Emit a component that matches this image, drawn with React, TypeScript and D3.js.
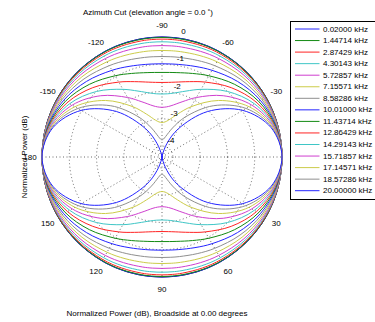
import React from "react";
import * as d3 from "d3";

// frequencies shown in the legend
const freqLabels = [
  "0.02000", "1.44714", "2.87429", "4.30143", "5.72857",
  "7.15571", "8.58286", "10.01000", "11.43714", "12.86429",
  "14.29143", "15.71857", "17.14571", "18.57286", "20.00000",
];

const lineColors = [
  "#2424ff", "#138a13", "#ff2424", "#3fc6c6", "#cf3fcf", "#cccc4a", "#8f8f8f",
  "#2424ff", "#138a13", "#ff2424", "#3fc6c6", "#cf3fcf", "#cccc4a", "#8f8f8f",
  "#2424ff",
];

// cut angles (deg from broadside) for one quadrant, pattern is symmetric
const cutAngles = [0, 15, 30, 45, 60, 70, 80, 85, 90];

// normalized power (dB) read at cutAngles, one array per frequency
const f00 = [0, 0, 0, 0, 0, 0, 0, 0, 0];
const f01 = [0, -0.001, -0.005, -0.01, -0.015, -0.017, -0.019, -0.02, -0.02];
const f02 = [0, -0.005, -0.02, -0.039, -0.059, -0.069, -0.076, -0.078, -0.078];
const f03 = [0, -0.012, -0.044, -0.088, -0.132, -0.155, -0.171, -0.175, -0.176];
const f04 = [0, -0.021, -0.078, -0.156, -0.235, -0.277, -0.304, -0.311, -0.314];
const f05 = [0, -0.032, -0.122, -0.244, -0.368, -0.434, -0.478, -0.489, -0.493];
const f06 = [0, -0.047, -0.175, -0.353, -0.533, -0.629, -0.693, -0.709, -0.715];
const f07 = [0, -0.064, -0.239, -0.482, -0.73, -0.864, -0.952, -0.975, -0.983];
const f08 = [0, -0.083, -0.313, -0.633, -0.961, -1.14, -1.258, -1.288, -1.299];
const f09 = [0, -0.105, -0.397, -0.806, -1.229, -1.46, -1.613, -1.653, -1.667];
const f10 = [0, -0.13, -0.491, -1.002, -1.535, -1.828, -2.023, -2.074, -2.091];
const f11 = [0, -0.157, -0.597, -1.223, -1.882, -2.247, -2.492, -2.556, -2.578];
const f12 = [0, -0.187, -0.713, -1.469, -2.273, -2.724, -3.028, -3.108, -3.135];
const f13 = [0, -0.22, -0.841, -1.742, -2.714, -3.265, -3.638, -3.737, -3.771];
const f14 = [0, -0.256, -0.981, -2.044, -3.208, -3.877, -4.335, -4.457, -4.499];
const seriesDb = [f00, f01, f02, f03, f04, f05, f06, f07, f08, f09, f10, f11, f12, f13, f14];

const ringTicks = [0, -1, -2, -3, -4];
const spokeAngles = [0, 30, 60, 90, 120, 150];
const angleTicks = [0, 30, 60, 90, 120, 150, 180, -150, -120, -90, -60, -30];

const width = 375;
const height = 322;
const cx = 162;
const cy = 157;
const R = 120;
const rMin = -4.4;
const font = "'Liberation Sans', Arial, sans-serif";

// mirror a quarter cut into a whole turn of [angleDeg, dB]
function fullTurn(vals: number[]) {
  const pts: [number, number][] = [];
  const n = cutAngles.length;
  for (let i = 0; i < n; i++) pts.push([cutAngles[i], vals[i]]);
  for (let i = n - 2; i >= 0; i--) pts.push([180 - cutAngles[i], vals[i]]);
  for (let i = 1; i < n; i++) pts.push([180 + cutAngles[i], vals[i]]);
  for (let i = n - 2; i >= 1; i--) pts.push([360 - cutAngles[i], vals[i]]);
  return pts;
}

function drawChart(svg: d3.Selection<SVGSVGElement, unknown, null, undefined>) {
  svg.selectAll("*").remove();

  // values under rMin go through the origin (negative radius), like matlab polar
  const r = d3.scaleLinear().domain([rMin, 0]).range([0, R]);
  const rad = (deg: number) => (deg * Math.PI) / 180;

  const plot = svg.append("g").attr("transform", `translate(${cx},${cy})`);

  // dotted grid
  plot
    .selectAll(".ring")
    .data(ringTicks.slice(1))
    .join("circle")
    .attr("r", (d) => r(d))
    .attr("fill", "none")
    .attr("stroke", "#444")
    .attr("stroke-width", 0.8)
    .attr("stroke-dasharray", "1,2.5");

  plot
    .selectAll(".spoke")
    .data(spokeAngles)
    .join("line")
    .attr("x1", (d) => -R * Math.cos(rad(d)))
    .attr("y1", (d) => -R * Math.sin(rad(d)))
    .attr("x2", (d) => R * Math.cos(rad(d)))
    .attr("y2", (d) => R * Math.sin(rad(d)))
    .attr("stroke", "#444")
    .attr("stroke-width", 0.8)
    .attr("stroke-dasharray", "1,2.5");

  plot
    .append("circle")
    .attr("r", R)
    .attr("fill", "none")
    .attr("stroke", "#000")
    .attr("stroke-width", 1);

  const line = d3
    .lineRadial<[number, number]>()
    .angle((d) => rad(d[0] + 90))
    .radius((d) => r(d[1]))
    .curve(d3.curveCatmullRomClosed.alpha(0.5));

  seriesDb.forEach((vals, i) => {
    plot
      .append("path")
      .datum(fullTurn(vals))
      .attr("fill", "none")
      .attr("stroke", lineColors[i])
      .attr("stroke-width", 1)
      .attr("d", line);
  });

  // angle labels
  plot
    .selectAll(".alab")
    .data(angleTicks)
    .join("text")
    .attr("x", (d) => 132 * Math.cos(rad(d)))
    .attr("y", (d) => 132 * Math.sin(rad(d)))
    .attr("text-anchor", "middle")
    .attr("dominant-baseline", "central")
    .attr("font-family", font)
    .attr("font-size", 8)
    .text((d) => String(d));

  // radial labels
  plot
    .selectAll(".rlab")
    .data(ringTicks)
    .join("text")
    .attr("x", (d) => 7 + (r(d) + 6) * Math.cos(rad(-83.4)))
    .attr("y", (d) => (r(d) + 6) * Math.sin(rad(-83.4)))
    .attr("text-anchor", "middle")
    .attr("dominant-baseline", "central")
    .attr("font-family", font)
    .attr("font-size", 8)
    .text((d) => String(d));

  // title + axis labels
  svg
    .append("text")
    .attr("x", 148)
    .attr("y", 12)
    .attr("text-anchor", "middle")
    .attr("dominant-baseline", "central")
    .attr("font-family", font)
    .attr("font-size", 8)
    .text("Azimuth Cut (elevation angle = 0.0  \u02da)");

  svg
    .append("text")
    .attr("transform", `translate(24,${cy}) rotate(-90)`)
    .attr("text-anchor", "middle")
    .attr("dominant-baseline", "central")
    .attr("font-family", font)
    .attr("font-size", 8)
    .text("Normalized Power (dB)");

  svg
    .append("text")
    .attr("x", 157)
    .attr("y", 313)
    .attr("text-anchor", "middle")
    .attr("dominant-baseline", "central")
    .attr("font-family", font)
    .attr("font-size", 8)
    .text("Normalized Power (dB), Broadside at 0.00 degrees");

  // legend
  const lg = svg.append("g").attr("transform", "translate(290.5,21.5)");
  lg.append("rect")
    .attr("width", 95)
    .attr("height", 178)
    .attr("fill", "#fff")
    .attr("stroke", "#000")
    .attr("stroke-width", 1);

  const item = lg
    .selectAll(".item")
    .data(freqLabels)
    .join("g")
    .attr("transform", (d, i) => `translate(0,${7.5 + i * 11.55})`);

  item
    .append("line")
    .attr("x1", 4.5)
    .attr("x2", 29)
    .attr("stroke", (d, i) => lineColors[i])
    .attr("stroke-width", 1);

  item
    .append("text")
    .attr("x", 32.5)
    .attr("dominant-baseline", "central")
    .attr("font-family", font)
    .attr("font-size", 8)
    .text((d) => `${d} kHz`);

  return svg.node();
}

function PolarCut() {
  const ref = React.useRef<SVGSVGElement>(null);
  React.useEffect(() => {
    if (ref.current) drawChart(d3.select(ref.current));
  }, []);

  return (
    <svg
      ref={ref}
      width={width}
      height={height}
      style={{ position: "absolute", left: 0, top: 0, background: "#fff" }}
    />
  );
}

export default function App() {
  return <PolarCut />;
}
